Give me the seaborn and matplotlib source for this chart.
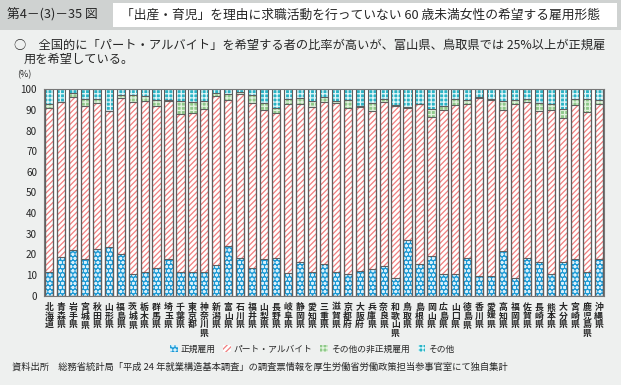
import matplotlib

matplotlib.use("Agg")

import matplotlib.pyplot as plt
import numpy as np
import pandas as pd
import seaborn as sns
from matplotlib.patches import Patch, Rectangle

# データ（図から読み取った値, %）
prefectures = [
    "北海道", "青森県", "岩手県", "宮城県", "秋田県", "山形県", "福島県", "茨城県",
    "栃木県", "群馬県", "埼玉県", "千葉県", "東京都", "神奈川県", "新潟県", "富山県",
    "石川県", "福井県", "山梨県", "長野県", "岐阜県", "静岡県", "愛知県", "三重県",
    "滋賀県", "京都府", "大阪府", "兵庫県", "奈良県", "和歌山県", "鳥取県", "島根県",
    "岡山県", "広島県", "山口県", "徳島県", "香川県", "愛媛県", "高知県", "福岡県",
    "佐賀県", "長崎県", "熊本県", "大分県", "宮崎県", "鹿児島県", "沖縄県",
]
seiki = [
    11.7, 18.6, 22.2, 17.7, 22.5, 23.6, 20.0, 10.7, 11.3, 13.3, 17.6, 11.5,
    11.7, 11.3, 14.8, 24.0, 18.5, 13.2, 17.6, 18.1, 11.1, 16.5, 11.3, 15.6,
    11.3, 10.6, 12.2, 12.8, 14.5, 8.4, 26.9, 15.6, 19.4, 10.6, 10.6, 18.1,
    9.7, 9.4, 21.6, 8.4, 18.5, 16.1, 10.3, 16.1, 17.6, 11.3, 17.6,
]
part = [
    79.1, 75.1, 74.3, 74.1, 70.7, 65.7, 75.6, 83.3, 83.0, 78.5, 76.6, 76.4,
    76.7, 79.1, 82.1, 70.8, 79.0, 80.4, 72.2, 70.6, 82.0, 76.6, 80.2, 78.3,
    82.1, 80.5, 79.1, 76.9, 79.4, 83.5, 64.2, 77.1, 67.0, 79.3, 81.6, 75.0,
    86.0, 85.3, 68.6, 84.3, 75.5, 73.5, 79.6, 70.2, 74.6, 77.5, 75.1,
]
hiseiki_other = [
    2.0, 0.2, 1.6, 3.7, 2.0, 0.3, 1.7, 3.3, 2.5, 3.0, 0.5, 6.6,
    5.6, 3.7, 1.5, 2.7, 1.1, 3.6, 3.7, 2.3, 2.1, 2.9, 2.7, 2.4,
    0.8, 3.6, 0.5, 3.8, 1.6, 0.7, 0.3, 0.1, 4.0, 2.0, 3.3, 1.9,
    0.6, 0.8, 4.0, 2.0, 1.5, 3.8, 2.8, 4.3, 3.0, 6.4, 2.0,
]
sonota = [
    7.2, 6.1, 1.9, 4.5, 4.8, 10.4, 2.7, 2.7, 3.2, 5.2, 5.3, 5.5,
    6.0, 5.9, 1.6, 2.5, 1.4, 2.8, 6.5, 9.0, 4.8, 4.0, 5.8, 3.7,
    5.8, 5.3, 8.2, 6.5, 4.5, 7.4, 8.6, 7.2, 9.6, 8.1, 4.5, 5.0,
    3.7, 4.5, 5.8, 5.3, 4.5, 6.6, 7.3, 9.4, 4.8, 4.8, 5.3,
]
series_labels = ["正規雇用", "パート・アルバイト", "その他の非正規雇用", "その他"]
y_ticks = list(range(0, 101, 10))

W, H = 621, 385
BG = "#eef0ef"
OUTLINE = "#5f5f5f"

# (列名, 塗り色, ハッチ色, ハッチ)
STYLES = [
    ("seiki", "#1b9ad6", "#d8f0fb", "oooo"),
    ("part", "#ffffff", "#f17f7f", "//////"),
    ("hiseiki_other", "#8fc98a", "#e3f3df", "++++"),
    ("sonota", "#2ab4c6", "#e4f7f9", "++++"),
]


def fx(px):
    return px / W


def fy(py):
    return 1 - py / H


sns.set_style("white")
plt.rcParams["font.family"] = ["Noto Sans CJK JP", "DejaVu Sans"]
plt.rcParams["hatch.linewidth"] = 0.9

df = pd.DataFrame({
    "pref": prefectures,
    "seiki": seiki,
    "part": part,
    "hiseiki_other": hiseiki_other,
    "sonota": sonota,
})
cum = df[["seiki", "part", "hiseiki_other", "sonota"]].cumsum(axis=1)

fig = plt.figure(figsize=(W / 100, H / 100), dpi=100, facecolor=BG)

# ヘッダー
fig.patches.append(Rectangle((0, fy(30)), 1, 30 / H, transform=fig.transFigure,
                             facecolor="#cfd2d1", edgecolor="none", zorder=0))
fig.patches.append(Rectangle((fx(113), fy(27)), fx(617 - 113), 24 / H, transform=fig.transFigure,
                             facecolor="white", edgecolor="none", zorder=1))
fig.text(fx(7), fy(15), "第4－(3)－35 図", fontsize=9.2, va="center", ha="left")
fig.text(fx(121), fy(15), "「出産・育児」を理由に求職活動を行っていない 60 歳未満女性の希望する雇用形態",
         fontsize=9.2, va="center", ha="left")
fig.text(fx(14), fy(45), "○　全国的に「パート・アルバイト」を希望する者の比率が高いが、富山県、鳥取県では 25%以上が正規雇",
         fontsize=8.8, va="center", ha="left")
fig.text(fx(24), fy(59), "用を希望している。", fontsize=8.8, va="center", ha="left")

ax = fig.add_axes([fx(44), fy(295.7), fx(604 - 44), (295.7 - 89.3) / H])
ax.set_facecolor("white")

# 積み上げ棒（上の層から順に累積値で描画）
for col, face, hatch_color, hatch in reversed(STYLES):
    sns.barplot(x=df["pref"], y=cum[col], color=face, edgecolor=hatch_color, hatch=hatch,
                linewidth=0, width=0.69, saturation=1, errorbar=None, ax=ax)
for col, _, _, _ in STYLES:
    sns.barplot(x=df["pref"], y=cum[col], fill=False, color=OUTLINE, linewidth=0.8,
                width=0.69, errorbar=None, ax=ax)

ax.set_xlim(-0.42, len(prefectures) - 1 + 0.44)
ax.set_ylim(0, 100)
ax.set_yticks(y_ticks)
ax.set_yticklabels([str(t) for t in y_ticks], fontsize=7.2)
ax.set_xticks(range(len(prefectures)))
ax.set_xticklabels(["\n".join(p) for p in prefectures], fontsize=6.4, linespacing=0.98,
                   fontweight="bold")
ax.set_xticks(np.arange(0.5, len(prefectures) - 1, 1), minor=True)
ax.tick_params(axis="x", which="major", length=0, pad=5)
ax.tick_params(axis="x", which="minor", length=2.5, color="#888888", direction="out")
ax.tick_params(axis="y", length=3, color="#888888", direction="out", pad=2)
ax.set_xlabel("")
ax.set_ylabel("")
for spine in ax.spines.values():
    spine.set_color("#777777")
    spine.set_linewidth(0.8)

fig.text(fx(24), fy(75), "(%)", fontsize=6.5, ha="center", va="center")

handles = [Patch(facecolor=face, edgecolor=hc, hatch=h, linewidth=0) for _, face, hc, h in STYLES]
fig.legend(handles, series_labels, loc="center", bbox_to_anchor=(fx(312), fy(349)), ncol=4,
           frameon=False, fontsize=6.3, handlelength=0.9, handleheight=0.9,
           handletextpad=0.3, columnspacing=0.9)

fig.text(fx(12), fy(367),
         "資料出所　総務省統計局「平成 24 年就業構造基本調査」の調査票情報を厚生労働省労働政策担当参事官室にて独自集計",
         fontsize=6.7, va="center", ha="left")

fig.savefig("out.png", dpi=100, facecolor=BG)
plt.close(fig)
